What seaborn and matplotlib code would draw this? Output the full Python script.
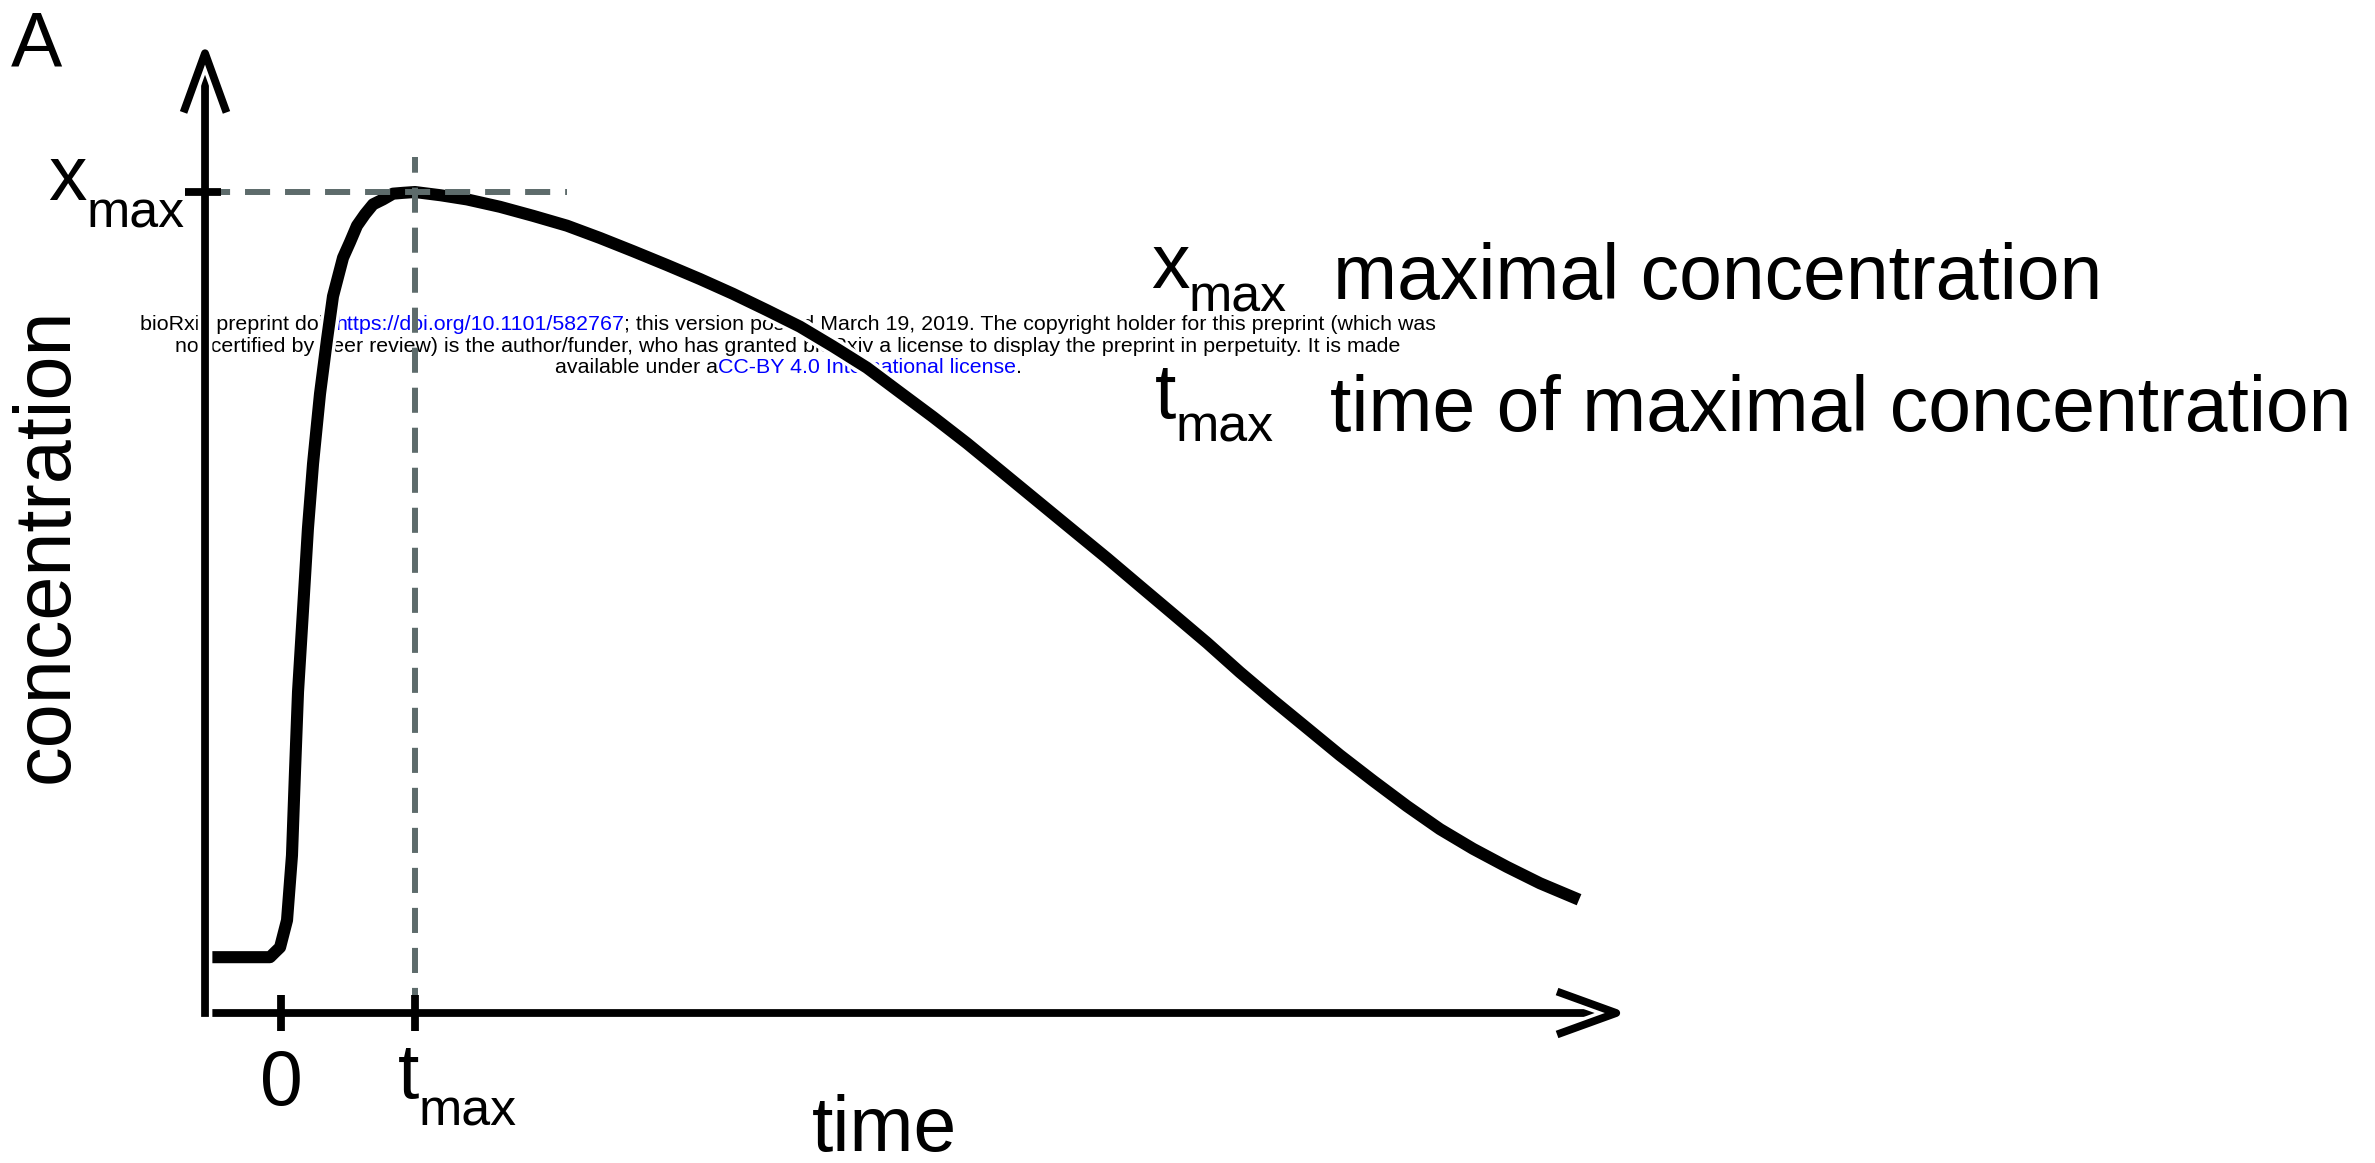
import matplotlib
matplotlib.use("Agg")
import matplotlib.pyplot as plt
import matplotlib.patheffects as pe
import seaborn as sns

# ---------------- data ----------------
time_vals = [-0.567, -0.082, -0.045, -0.007, 0.015, 0.045, 0.067, 0.082, 0.104,
             0.127, 0.164, 0.201, 0.239, 0.291, 0.343, 0.388, 0.463, 0.515,
             0.567, 0.627, 0.687, 0.761, 0.836, 0.910, 1.000,
             1.194, 1.388, 1.634, 1.881, 2.134, 2.381, 2.627, 2.881, 3.127,
             3.373, 3.627, 3.873, 4.119, 4.373, 4.619, 4.866, 5.119, 5.366,
             5.664, 5.910, 6.164, 6.410, 6.657, 6.910, 7.157, 7.403, 7.657,
             7.903, 8.149, 8.403, 8.649, 8.896, 9.149, 9.396, 9.687]
conc_vals = [0.068, 0.068, 0.074, 0.080, 0.094, 0.113, 0.160, 0.192, 0.292,
             0.391, 0.490, 0.590, 0.669, 0.754, 0.820, 0.873, 0.920, 0.939,
             0.959, 0.973, 0.985, 0.991, 0.998, 0.999, 1.000,
             0.996, 0.991, 0.982, 0.971, 0.959, 0.944, 0.928, 0.911, 0.894,
             0.876, 0.856, 0.836, 0.812, 0.786, 0.756, 0.726, 0.694, 0.661,
             0.621, 0.588, 0.554, 0.520, 0.486, 0.451, 0.415, 0.381, 0.347,
             0.314, 0.283, 0.252, 0.224, 0.200, 0.178, 0.158, 0.138]
t_max = 1.0
x_max = 1.0
x_tick_values = [0.0, t_max]
x_tick_labels = [("0", ""), ("t", "max")]
y_label_parts = ("x", "max")
legend_rows = [(("x", "max"), "maximal concentration"),
               (("t", "max"), "time of maximal concentration")]
xlabel = "time"
ylabel = "concentration"
panel_label = "A"
watermark_lines = [
    [("bioRxiv preprint doi:", "black"), (" https://doi.org/10.1101/582767", "#0000ff"),
     ("; this version posted March 19, 2019. The copyright holder for this preprint (which was", "black")],
    [("not certified by peer review) is the author/funder, who has granted bioRxiv a license to display the preprint in perpetuity. It is made", "black")],
    [("available under a", "black"), ("CC-BY 4.0 International license", "#0000ff"), (".", "black")],
]

# ---------------- style ----------------
sns.set_style("white")
FONT = "Liberation Sans"
plt.rcParams["font.family"] = [FONT, "DejaVu Sans"]
plt.rcParams["text.color"] = "black"

W, H = 2375, 1163
fig = plt.figure(figsize=(W / 100, H / 100), dpi=100)
fig.patch.set_facecolor("white")
ax = fig.add_axes([0, 0, 1, 1])
ax.set_xlim(-2.097, 15.627)
ax.set_ylim(-0.1827, 1.2339)
ax.set_axis_off()

T_LEFT = -0.567     # y-axis position in data units
T_TIP = 10.05       # x-axis arrow tip
C_TIP = 1.183       # y-axis arrow tip

def halo(lw):
    return [pe.Stroke(linewidth=lw + 5, foreground="white"), pe.Normal()]

# curve
CURVE_LW = 8.7
sns.lineplot(x=time_vals, y=conc_vals, ax=ax, color="black", linewidth=CURVE_LW,
             estimator=None, sort=False, zorder=3,
             solid_capstyle="butt", solid_joinstyle="round",
             path_effects=halo(CURVE_LW))

# axes with open arrow heads
AX_LW = 5.6
for xy, xytext in [((T_TIP, 0), (T_LEFT, 0)), ((T_LEFT, C_TIP), (T_LEFT, 0))]:
    ax.annotate("", xy=xy, xytext=xytext, zorder=4,
                arrowprops=dict(arrowstyle="->,head_length=40,head_width=14.5",
                                mutation_scale=1, lw=AX_LW, color="black",
                                shrinkA=0, shrinkB=0, capstyle="projecting",
                                path_effects=halo(AX_LW)))

# dashed guide lines
GRAY = "#5d6b6b"
ax.plot([t_max, t_max], [0, 1.043], color=GRAY, lw=4.3, dashes=(4.2, 2.5), zorder=5)
ax.plot([T_LEFT, 2.134], [x_max, x_max], color=GRAY, lw=4.3, dashes=(4.2, 2.5), zorder=5)

# ticks
ax.vlines(x_tick_values, -0.022, 0.022, color="black", lw=AX_LW, zorder=6)
ax.hlines([x_max], T_LEFT - 0.149, T_LEFT + 0.12, color="black", lw=AX_LW, zorder=6)

# ---------------- text helpers ----------------
def ftext(px, py, s, size, **kw):
    kw.setdefault("zorder", 7)
    kw.setdefault("color", "black")
    return ax.text(px / W, 1 - py / H, s, fontsize=size, family=FONT,
                   transform=fig.transFigure, **kw)

renderer = fig.canvas.get_renderer()
def width(s, size):
    t = fig.text(0, 0, s, fontsize=size, family=FONT)
    w = t.get_window_extent(renderer).width
    t.remove()
    return w

BIG = 55.4
SUB = 37.4

ftext(11, 67, panel_label, BIG, va="baseline", ha="left")
ftext(68, 545, ylabel, 57, rotation=90, rotation_mode="anchor",
      ha="center", va="baseline")
ftext(812, 1151, xlabel, BIG, va="baseline", ha="left")

# y-axis label x_max
ftext(48, 200, y_label_parts[0], BIG, va="baseline", ha="left")
ftext(87, 228, y_label_parts[1], SUB, va="baseline", ha="left")

# x tick labels
ftext(281, 1105, x_tick_labels[0][0], BIG, va="baseline", ha="center")
ftext(398, 1098, x_tick_labels[1][0], BIG, va="baseline", ha="left")
ftext(419, 1125, x_tick_labels[1][1], SUB, va="baseline", ha="left")

# legend rows
row_pos = [((1151, 288), (1189, 312), (1333, 299)),
           ((1155, 418), (1176, 441), (1330, 431))]
for ((base, sub), desc), (p_base, p_sub, p_desc) in zip(legend_rows, row_pos):
    ftext(*p_base, base, BIG, va="baseline", ha="left")
    ftext(*p_sub, sub, SUB, va="baseline", ha="left")
    ftext(*p_desc, desc, BIG, va="baseline", ha="left")

# watermark (under the drawing)
full1 = "".join(s for s, _ in watermark_lines[0])
WM = 13.3
WM = WM * 1297 / width(full1, WM)
sp = width("a a", WM) - width("aa", WM)
center_x = 788
baselines = [330, 352, 373]
for line, by in zip(watermark_lines, baselines):
    total = 0
    parts = []
    for s, col in line:
        lead = s.startswith(" ")
        s2 = s.strip(" ") if lead else s
        total += (sp if lead else 0)
        parts.append((total, s2, col))
        total += width(s2, WM)
    x0 = center_x - total / 2
    for off, s2, col in parts:
        ftext(x0 + off, by, s2, WM, va="baseline", ha="left", color=col, zorder=1)

fig.savefig("out.png", dpi=100, facecolor="white")
